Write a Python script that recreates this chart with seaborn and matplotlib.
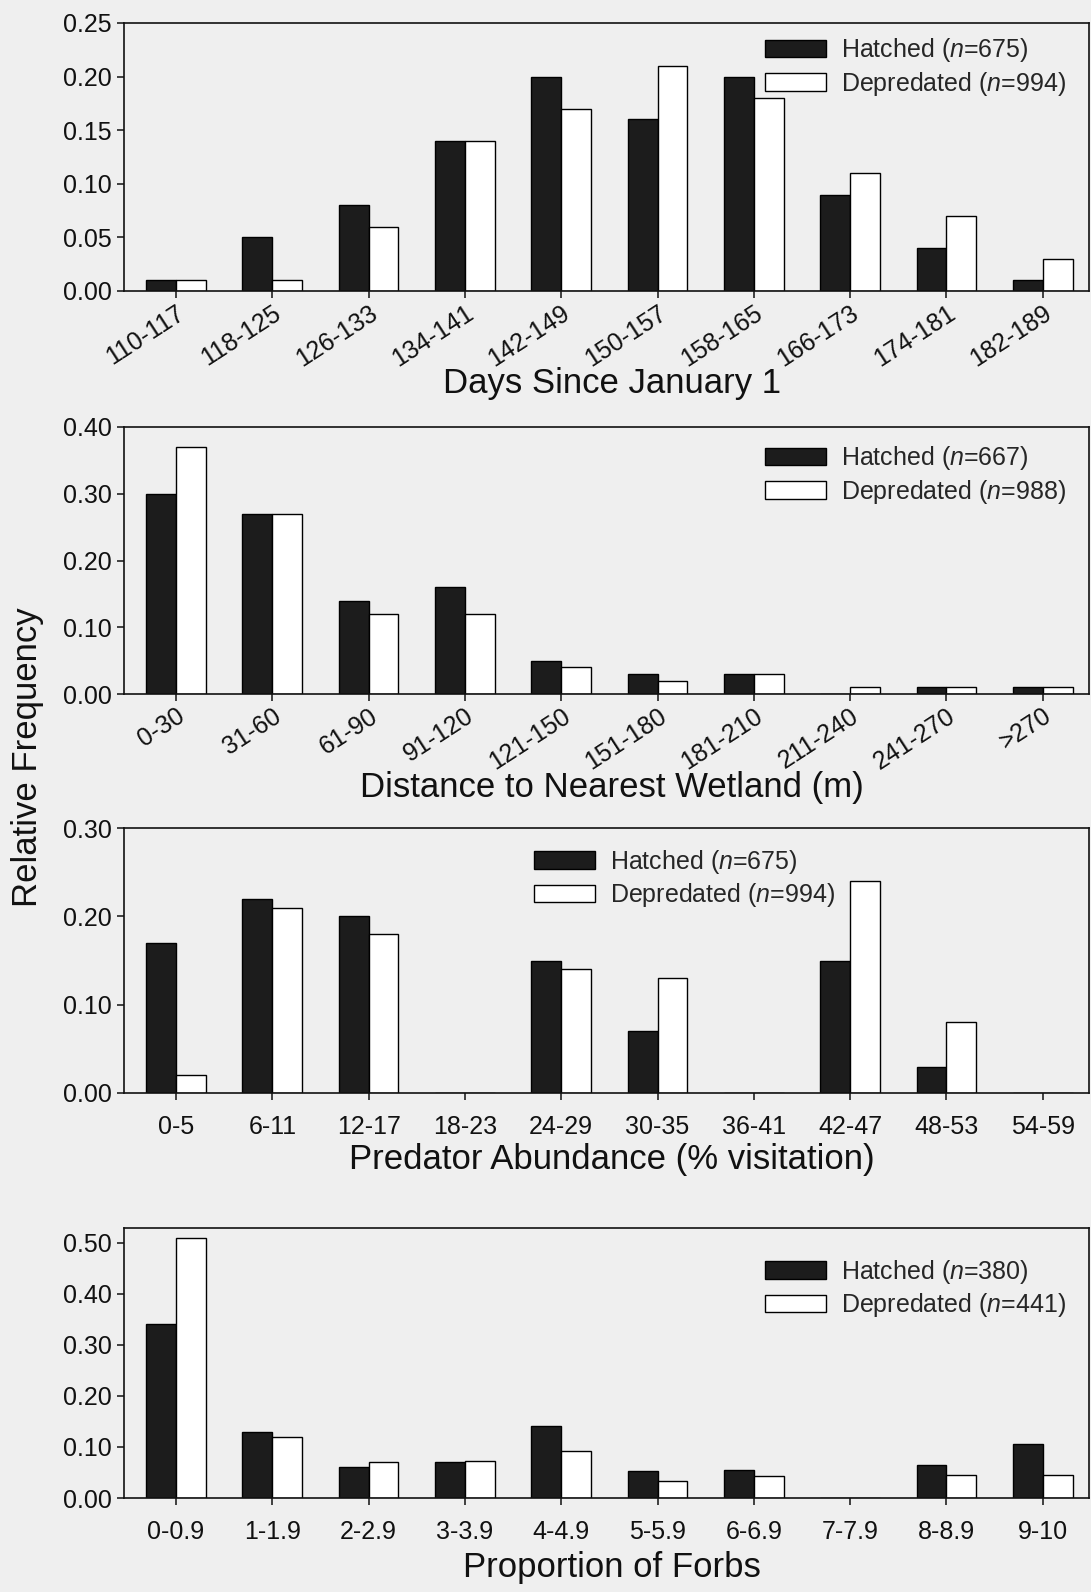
import matplotlib
matplotlib.use("Agg")
import matplotlib.pyplot as plt
import seaborn as sns
import pandas as pd
from matplotlib.patches import Patch

# ---------------- data ----------------
days_cats = ["110-117", "118-125", "126-133", "134-141", "142-149",
             "150-157", "158-165", "166-173", "174-181", "182-189"]
days_hatched = [0.01, 0.05, 0.08, 0.14, 0.20, 0.16, 0.20, 0.09, 0.04, 0.01]
days_depredated = [0.01, 0.01, 0.06, 0.14, 0.17, 0.21, 0.18, 0.11, 0.07, 0.03]
days_n = (675, 994)

dist_cats = ["0-30", "31-60", "61-90", "91-120", "121-150",
             "151-180", "181-210", "211-240", "241-270", ">270"]
dist_hatched = [0.30, 0.27, 0.14, 0.16, 0.05, 0.03, 0.03, 0.00, 0.01, 0.01]
dist_depredated = [0.37, 0.27, 0.12, 0.12, 0.04, 0.02, 0.03, 0.01, 0.01, 0.01]
dist_n = (667, 988)

pred_cats = ["0-5", "6-11", "12-17", "18-23", "24-29",
             "30-35", "36-41", "42-47", "48-53", "54-59"]
pred_hatched = [0.17, 0.22, 0.20, 0.00, 0.15, 0.07, 0.00, 0.15, 0.03, 0.00]
pred_depredated = [0.02, 0.21, 0.18, 0.00, 0.14, 0.13, 0.00, 0.24, 0.08, 0.00]
pred_n = (675, 994)

forb_cats = ["0-0.9", "1-1.9", "2-2.9", "3-3.9", "4-4.9",
             "5-5.9", "6-6.9", "7-7.9", "8-8.9", "9-10"]
forb_hatched = [0.34, 0.13, 0.061, 0.071, 0.142, 0.052, 0.054, 0.00, 0.065, 0.106]
forb_depredated = [0.51, 0.12, 0.071, 0.072, 0.092, 0.033, 0.044, 0.00, 0.046, 0.046]
forb_n = (380, 441)

xlabels = ["Days Since January 1", "Distance to Nearest Wetland (m)",
           "Predator Abundance (% visitation)", "Proportion of Forbs"]
ylabel = "Relative Frequency"
yticks_list = [[0.00, 0.05, 0.10, 0.15, 0.20, 0.25],
               [0.00, 0.10, 0.20, 0.30, 0.40],
               [0.00, 0.10, 0.20, 0.30],
               [0.00, 0.10, 0.20, 0.30, 0.40, 0.50]]
ylims = [0.25, 0.40, 0.30, 0.529]

# ---------------- style ----------------
sns.set_theme(style="ticks")
BG = "#efefef"
plt.rcParams["font.family"] = ["Liberation Sans", "DejaVu Sans"]
plt.rcParams["mathtext.fontset"] = "custom"
plt.rcParams["mathtext.rm"] = "Liberation Sans"
plt.rcParams["mathtext.it"] = "Liberation Sans:italic"

W, H = 1091, 1592
fig = plt.figure(figsize=(W / 100, H / 100), dpi=100, facecolor=BG)

# axes boxes in pixels: (top, bottom)
boxes = [(23, 291), (427, 694), (828, 1093), (1228, 1498)]
LEFT, RIGHT = 124, 1089
legend_anchor = [(0.664, 0.951), (0.664, 0.936), (0.425, 0.925), (0.664, 0.889)]
xlabel_y = [383, 788, 1160, 1568]

panels = [
    (days_cats, days_hatched, days_depredated, days_n),
    (dist_cats, dist_hatched, dist_depredated, dist_n),
    (pred_cats, pred_hatched, pred_depredated, pred_n),
    (forb_cats, forb_hatched, forb_depredated, forb_n),
]

HATCH_C = "#1c1c1c"
palette = {"Hatched": HATCH_C, "Depredated": "white"}

for i, (cats, hv, dv, ns) in enumerate(panels):
    top, bot = boxes[i]
    ax = fig.add_axes([LEFT / W, 1 - bot / H, (RIGHT - LEFT) / W, (bot - top) / H])
    ax.set_facecolor(BG)
    df = pd.DataFrame({
        "cat": cats * 2,
        "value": list(hv) + list(dv),
        "Outcome": ["Hatched"] * len(cats) + ["Depredated"] * len(cats),
    })
    sns.barplot(data=df, x="cat", y="value", hue="Outcome", order=cats,
                hue_order=["Hatched", "Depredated"], palette=palette,
                width=0.62, gap=0, edgecolor="black", linewidth=1.0,
                errorbar=None, legend=False, ax=ax)
    ax.set_xlim(-0.54, 9.48)
    ax.set_ylim(0, ylims[i])
    ax.set_yticks(yticks_list[i])
    ax.set_yticklabels([f"{t:.2f}" for t in yticks_list[i]])
    ax.set_xlabel("")
    ax.set_ylabel("")
    for s in ax.spines.values():
        s.set_visible(True)
        s.set_linewidth(1.2)
        s.set_color("#111111")
    ax.tick_params(axis="y", direction="out", length=5, width=1.1, pad=4,
                   labelsize=18, colors="#111111")
    ax.tick_params(axis="x", direction="out", length=5, width=1.1,
                   labelsize=18, colors="#111111")
    if i in (0, 1):
        ax.tick_params(axis="x", pad=2)
        for lab in ax.get_xticklabels():
            lab.set_rotation(33)
            lab.set_ha("right")
            lab.set_va("top")
            lab.set_rotation_mode("anchor")
    else:
        ax.tick_params(axis="x", pad=11)

    handles = [Patch(facecolor=HATCH_C, edgecolor="black", linewidth=1.0),
               Patch(facecolor="white", edgecolor="black", linewidth=1.0)]
    labels = [f"Hatched ($n$={ns[0]})", f"Depredated ($n$={ns[1]})"]
    ax.legend(handles, labels, loc="upper left", bbox_to_anchor=legend_anchor[i],
              frameon=False, fontsize=18, handlelength=2.45, handleheight=0.7,
              handletextpad=0.6, labelspacing=0.22, borderpad=0,
              borderaxespad=0)

    fig.text(612 / W, 1 - xlabel_y[i] / H, xlabels[i], ha="center", va="center",
             fontsize=25, color="#111111")

fig.text(28 / W, 1 - 757 / H, ylabel, rotation=90, ha="center", va="center",
         fontsize=25, color="#111111")

fig.savefig("out.png", dpi=100, facecolor=BG)
